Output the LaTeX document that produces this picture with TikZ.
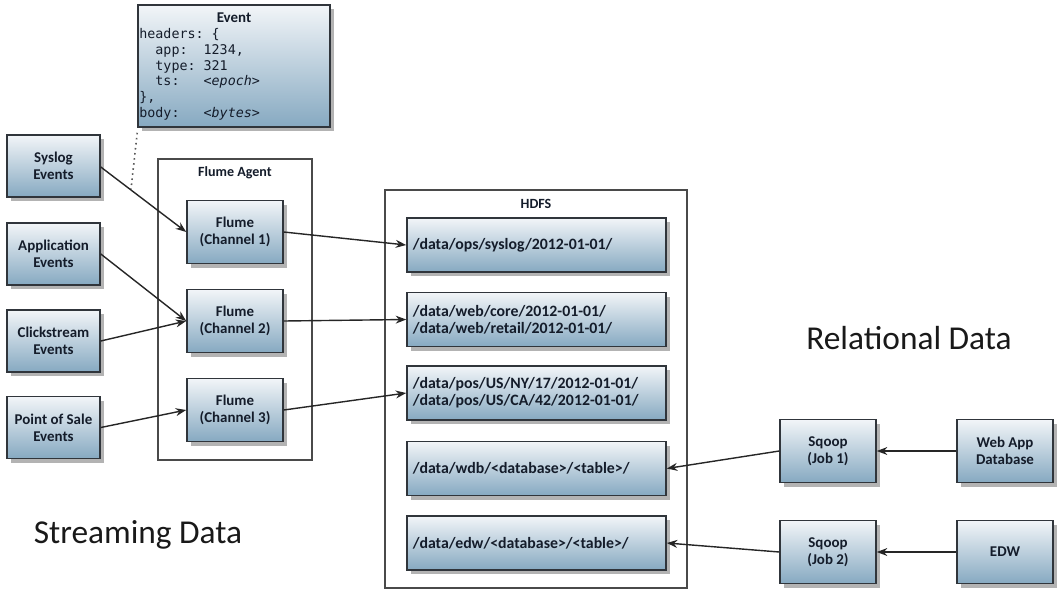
\documentclass[tikz,border=0pt]{standalone}
\usepackage{fontspec}
\setmainfont{Carlito}
\setmonofont{DejaVu Sans Mono}
\usetikzlibrary{arrows.meta, shadows}
\definecolor{boxTop}{HTML}{F2F5F8}
\definecolor{boxBottom}{HTML}{86A9C1}
\definecolor{boxEdge}{HTML}{30353B}
\definecolor{boxText}{HTML}{141C2A}
\definecolor{frameEdge}{HTML}{4A4A4A}

\begin{document}
\begin{tikzpicture}[x=0.02cm, y=-0.02cm,
    blockbox/.style={draw=boxEdge, line width=0.9pt, top color=boxTop, bottom color=boxBottom,
      drop shadow={shadow xshift=2.2pt, shadow yshift=-2.4pt, opacity=0.6},
      text=boxText, font=\bfseries\fontsize{8.5}{9.5}\selectfont, align=center,
      inner sep=0pt},
    srcbox/.style={blockbox, minimum width=1.86cm, minimum height=1.24cm},
    chanbox/.style={blockbox, minimum width=1.92cm, minimum height=1.26cm},
    pathbox/.style={blockbox, minimum width=5.18cm, minimum height=1.08cm,
      text width=4.95cm, align=left, font=\bfseries\fontsize{9}{9.8}\selectfont},
    groupframe/.style={draw=frameEdge, line width=0.7pt},
    grouptitle/.style={text=boxText, font=\bfseries\fontsize{8}{9}\selectfont},
    sidetitle/.style={font=\fontsize{19}{22}\selectfont, text=black!90},
    conn/.style={-{Stealth[length=6pt, width=4.5pt]}, line width=0.8pt, color=black!85}]
  \useasboundingbox (0,0) rectangle (1062,596);

  % event record
  \node[blockbox, minimum width=3.84cm, minimum height=2.44cm] (event) at (234,66) {};
  \node[grouptitle, font=\bfseries\fontsize{8.5}{9}\selectfont] (evtitle) at (234,18) {Event};
  \node[anchor=north west, align=left, inner sep=0pt, text=boxText,
    font=\ttfamily\fontsize{7.6}{9}\selectfont] (evbody) at (139,28)
    {headers: \{\\
     ~~app:~~1234,\\
     ~~type:~321\\
     ~~ts:~~~\textit{<epoch>}\\
     \},\\
     body:~~~\textit{<bytes>}};

  % frames
  \draw[groupframe] (158,159) rectangle (312,460);
  \node[grouptitle] (agenttitle) at (235,173) {Flume Agent};
  \draw[groupframe] (385,190) rectangle (687,588);
  \node[grouptitle] (hdfstitle) at (536,204) {HDFS};

  % streaming sources
  \node[srcbox] (syslog) at (53.5,166) {Syslog\\Events};
  \node[srcbox] (app) at (53.5,254) {Application\\Events};
  \node[srcbox] (click) at (53.5,341) {Clickstream\\Events};
  \node[srcbox] (pos) at (53.5,427.5) {Point of Sale\\Events};

  % flume channels
  \node[chanbox] (chan1) at (235,232) {Flume\\(Channel 1)};
  \node[chanbox] (chan2) at (235,321) {Flume\\(Channel 2)};
  \node[chanbox] (chan3) at (235,410) {Flume\\(Channel 3)};

  % hdfs paths
  \node[pathbox] (path1) at (536.5,245) {/data/ops/syslog/2012-01-01/};
  \node[pathbox] (path2) at (536.5,319.5) {/data/web/core/2012-01-01/\\/data/web/retail/2012-01-01/};
  \node[pathbox] (path3) at (536.5,393) {/data/pos/US/NY/17/2012-01-01/\\/data/pos/US/CA/42/2012-01-01/};
  \node[pathbox] (path4) at (536.5,468.5) {/data/wdb/<database>/<table>/};
  \node[pathbox] (path5) at (536.5,543) {/data/edw/<database>/<table>/};

  % relational side
  \node[chanbox] (sqoop1) at (828,451) {Sqoop\\(Job 1)};
  \node[chanbox] (sqoop2) at (828,552) {Sqoop\\(Job 2)};
  \node[chanbox] (webdb) at (1005,451) {Web App\\Database};
  \node[chanbox] (edw) at (1005,552) {EDW};

  \node[sidetitle] (reltitle) at (909,338) {Relational Data};
  \node[sidetitle] (streamtitle) at (138,535) {Streaming Data};

  % connectors
  \coordinate (evtip) at (131,189);
  \draw[dotted, line width=0.9pt, color=black!65] (event.south west) ++(0,5) -- (evtip);
  \draw[conn] (syslog.east) ++(0,1) -- (chan1.west);
  \draw[conn] (app.east) -- (chan2.west);
  \draw[conn] (click.east) -- (chan2.west);
  \draw[conn] (pos.east) -- (chan3.west);
  \draw[conn] (chan1.east) -- (path1.west);
  \draw[conn] (chan2.east) -- (path2.west);
  \draw[conn] (chan3.east) -- (path3.west);
  \draw[conn] (sqoop1.west) -- (path4.east);
  \draw[conn] (sqoop2.west) -- (path5.east);
  \draw[conn] (webdb.west) -- (sqoop1.east);
  \draw[conn] (edw.west) -- (sqoop2.east);
\end{tikzpicture}
\end{document}
